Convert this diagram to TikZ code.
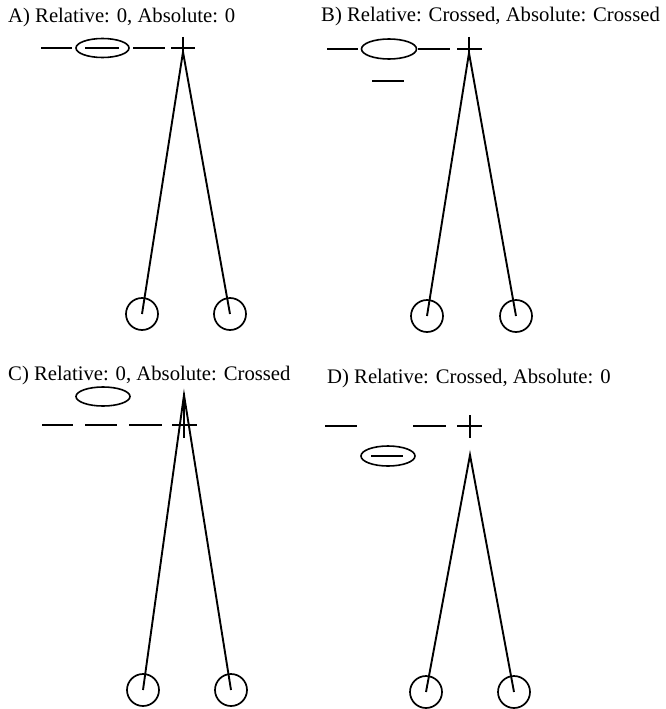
\documentclass[tikz,border=0pt]{standalone}
\usepackage{fontspec}
\setmainfont{Liberation Serif}
\begin{document}
\begin{tikzpicture}[x=1pt,y=-1pt,
  title/.style={anchor=base west,inner sep=0pt,font=\fontsize{20.7}{24}\selectfont},
  bar/.style={line width=2.9pt},
  leg/.style={line width=1.9pt},
  crossln/.style={line width=1.5pt},
  ring/.style={circle,draw,line width=1.7pt,minimum size=32pt,inner sep=0pt},
  oval/.style={line width=1.6pt}]
\useasboundingbox (0,0) rectangle (665,709);
% ---------- A ----------
\node[title] (tA) at (8,23) {A) Relative: 0, Absolute: 0};
\draw[bar] (41,48) -- (72,48);
\draw[oval] (102.5,48) ellipse [x radius=26.5,y radius=9.5];
\draw[bar] (85,48) -- (119,48);
\draw[bar] (133,48) -- (165,48);
\draw[crossln] (171,48) -- (195,48);
\draw[crossln] (183,37) -- (183,58);
\coordinate (apA) at (183,52);
\node[ring] (lA) at (142,314) {};
\node[ring] (rA) at (230,314) {};
\draw[leg] (lA.center) -- (apA) -- (rA.center);
% ---------- B ----------
\node[title] (tB) at (321,22) {B) Relative: Crossed, Absolute: Crossed};
\draw[bar] (327,49) -- (358,49);
\draw[oval] (389,49) ellipse [x radius=27.5,y radius=10];
\draw[bar] (418,49) -- (450,49);
\draw[crossln] (457,49) -- (482,49);
\draw[crossln] (469,37) -- (469,58);
\draw[bar] (372,81) -- (404,81);
\coordinate (apB) at (469,53);
\node[ring] (lB) at (427,316) {};
\node[ring] (rB) at (516,316) {};
\draw[leg] (lB.center) -- (apB) -- (rB.center);
% ---------- C ----------
\node[title] (tC) at (8,380) {C) Relative: 0, Absolute: Crossed};
\draw[oval] (103,396.5) ellipse [x radius=27,y radius=9.5];
\draw[bar] (42,425) -- (73,425);
\draw[bar] (85,425) -- (117,425);
\draw[bar] (129,425) -- (162,425);
\draw[crossln] (172,425) -- (197,425);
\draw[crossln] (184,393) -- (184,438);
\coordinate (apC) at (184,395);
\node[ring] (lC) at (143,690) {};
\node[ring] (rC) at (231,690) {};
\draw[leg] (lC.center) -- (apC) -- (rC.center);
% ---------- D ----------
\node[title] (tD) at (327,383) {D) Relative: Crossed, Absolute: 0};
\draw[bar] (325,426) -- (357,426);
\draw[bar] (413,426) -- (446,426);
\draw[crossln] (457,426) -- (482,426);
\draw[crossln] (470,415) -- (470,438);
\draw[oval] (388,456) ellipse [x radius=27,y radius=10];
\draw[bar] (371,456) -- (403,456);
\coordinate (apD) at (470,455);
\node[ring] (lD) at (426,692) {};
\node[ring] (rD) at (514,692) {};
\draw[leg] (lD.center) -- (apD) -- (rD.center);
\end{tikzpicture}
\end{document}
